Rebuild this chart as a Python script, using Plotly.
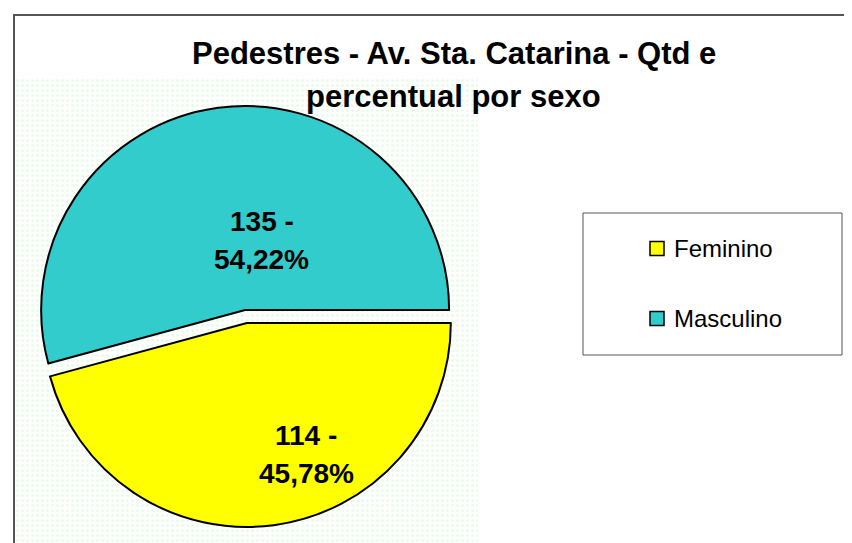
import plotly.graph_objects as go

# Data
labels = ["Feminino", "Masculino"]
values = [114, 135]
colors = ["#FFFF00", "#33CCCC"]
title_lines = ["Pedestres - Av. Sta. Catarina - Qtd e", "percentual por sexo"]

W, H = 852, 543
OFF = 8  # page body margin offset
FONT = "Arial, Liberation Sans, sans-serif"


def px(x):
    return (x - OFF) / W


def py(y):
    return 1 - (y - OFF) / H


fig = go.Figure()

# plot-area patterned background (decoration)
fig.add_trace(go.Scatter(
    x=[0, 1, 1, 0, 0], y=[0, 0, 1, 1, 0], mode="lines", fill="toself",
    line=dict(width=0), fillcolor="white",
    fillpattern=dict(shape=".", fgcolor="#d4f8d4", bgcolor="white", size=5, solidity=0.3),
    hoverinfo="skip", showlegend=False,
))

fig.add_trace(go.Pie(
    labels=labels, values=values, sort=False, direction="clockwise", rotation=90,
    marker=dict(colors=colors, line=dict(color="black", width=2)),
    pull=[0.032, 0.032],
    textinfo="none",
    domain=dict(x=[px(35.5), px(456.5)], y=[py(527), py(106)]),
    showlegend=False,
))

fig.update_xaxes(visible=False, range=[0, 1], domain=[px(15), px(478)], fixedrange=True)
fig.update_yaxes(visible=False, range=[0, 1], domain=[0, py(78)], fixedrange=True)

shapes = [
    # chart border
    dict(type="rect", xref="paper", yref="paper", x0=px(14), x1=1.05, y0=-0.05, y1=py(15),
         line=dict(color="#555555", width=2), fillcolor="rgba(0,0,0,0)", layer="above"),
    # legend box
    dict(type="rect", xref="paper", yref="paper", x0=px(583), x1=px(842), y0=py(355), y1=py(213),
         line=dict(color="#555555", width=1), fillcolor="white", layer="above"),
]
annotations = []
for i, (lab, col) in enumerate(zip(labels, colors)):
    cy = 248.5 + i * 70
    shapes.append(dict(type="rect", xref="paper", yref="paper",
                       x0=px(650), x1=px(664), y0=py(cy + 7), y1=py(cy - 7),
                       line=dict(color="black", width=1.5), fillcolor=col, layer="above"))
    annotations.append(dict(text=lab, xref="paper", yref="paper", x=px(672), y=py(cy),
                            xanchor="left", yanchor="middle", showarrow=False,
                            font=dict(family=FONT, size=24, color="black")))

# slice data labels (value - percent), from the data
total = sum(values)
label_centres = [(306, 454), (262, 240)]  # layout positions of the label blocks
for v, (cx, cy) in zip(values, label_centres):
    pct = f"{100 * v / total:.2f}".replace(".", ",") + "%"
    for j, line in enumerate([f"{v} -", pct]):
        annotations.append(dict(text="<b>" + line + "</b>", xref="paper", yref="paper",
                                x=px(cx), y=py(cy - 19 + 38 * j), xanchor="center", yanchor="middle",
                                showarrow=False, font=dict(family=FONT, size=28, color="black")))

for i, t in enumerate(title_lines):
    annotations.append(dict(text="<b>" + t + "</b>", xref="paper", yref="paper",
                            x=px(453.5), y=py(53 + 43 * i), xanchor="center", yanchor="middle",
                            showarrow=False, font=dict(family=FONT, size=31, color="black")))

fig.update_layout(
    width=W, height=H, margin=dict(l=0, r=0, t=0, b=0),
    paper_bgcolor="white", plot_bgcolor="white",
    separators=",.", showlegend=False,
    shapes=shapes, annotations=annotations,
)

fig.write_html("out.html")
